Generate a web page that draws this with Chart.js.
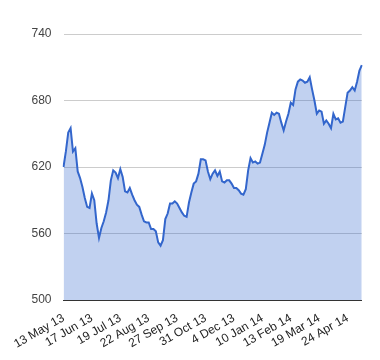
<!DOCTYPE html>
<html>
<head>
  <script src="https://cdn.jsdelivr.net/npm/chart.js"></script>
  <style>
    body { margin: 0; background: #fff; }
    canvas { display: block; }
  </style>
</head>
<body>
  <canvas id="priceChart" width="380" height="360"></canvas>

  <script>
    // one point every 2 trading days, a date label every 12 points
    const tickLabels = ["13 May 13", "17 Jun 13", "19 Jul 13", "22 Aug 13", "27 Sep 13", "31 Oct 13",
      "4 Dec 13", "10 Jan 14", "13 Feb 14", "19 Mar 14", "24 Apr 14"];
    const yTicks = [500, 560, 620, 680, 740];
    const prices = [
      620, 634, 651, 655, 634, 637, 616, 610, 602, 592, 584, 583,
      596, 590, 569, 556, 565, 571, 579, 590, 608, 617, 615, 610,
      618, 611, 598, 597, 601, 595, 590, 586, 584, 577, 571, 570,
      570, 564, 564, 562, 552, 549, 554, 573, 578, 587, 587, 589,
      587, 583, 579, 576, 575, 588, 597, 605, 607, 614, 627, 627,
      626, 616, 609, 614, 617, 612, 616, 607, 606, 608, 608, 605,
      601, 601, 599, 596, 595, 600, 617, 628, 624, 625, 623, 624,
      632, 640, 651, 660, 669, 667, 669, 668, 660, 653, 661, 668,
      678, 676, 690, 697, 699, 698, 696, 697, 701, 690, 680, 668,
      671, 670, 659, 662, 659, 655, 668, 663, 664, 660, 661, 674,
      687, 689, 692, 689, 697, 707, 712
    ];

    const labels = prices.map((p, i) => i % 12 === 0 ? tickLabels[i / 12] : "");

    new Chart(document.getElementById("priceChart"), {
      type: "line",
      data: {
        labels,
        datasets: [{
          data: prices,
          borderColor: "#3366cc",
          borderWidth: 2,
          backgroundColor: "rgba(51,102,204,0.3)",
          fill: "start",
          pointRadius: 0,
          tension: 0
        }]
      },
      options: {
        responsive: false,
        animation: false,
        layout: { padding: { top: 34, right: 18, left: 0, bottom: 0 } },
        plugins: { legend: { display: false }, tooltip: { enabled: false } },
        scales: {
          x: {
            grid: { display: false, drawTicks: false },
            border: { display: true, color: "#333", width: 1 },
            ticks: {
              autoSkip: false,
              minRotation: 30,
              maxRotation: 30,
              padding: 11,
              color: "#222",
              font: { family: "Liberation Sans", size: 12 }
            },
            afterFit(scale) { scale.height = 60; }
          },
          y: {
            min: 500,
            max: 740,
            afterBuildTicks(scale) { scale.ticks = yTicks.map(v => ({ value: v })); },
            grid: {
              drawTicks: false,
              color: ctx => ctx.tick && ctx.tick.value === 500 ? "rgba(0,0,0,0)" : "#cccccc"
            },
            border: { display: false },
            ticks: {
              padding: 12,
              color: "#444",
              font: { family: "Liberation Sans", size: 12 }
            },
            afterFit(scale) { scale.width = 63.5; }
          }
        }
      }
    });
  </script>
</body>
</html>
